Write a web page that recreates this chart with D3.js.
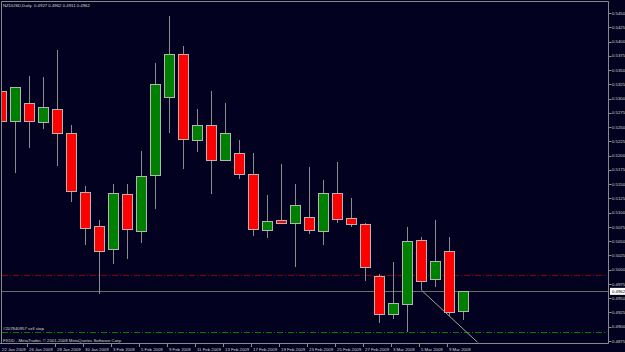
<!DOCTYPE html>
<html>
<head>
<meta charset="utf-8">
<script src="https://cdn.jsdelivr.net/npm/d3@7"></script>
<style>
    html, body { margin: 0; padding: 0; background: #020220; }
    svg { display: block; }
    text { font-family: "Liberation Sans", Arial, sans-serif; }
</style>
</head>
<body>
<div id="chart"></div>
<script>
// NZDUSD daily bars, 22 Jan 2009 - 10 Mar 2009
const dates = [
    "22 Jan 2009", "23 Jan 2009", "26 Jan 2009", "27 Jan 2009", "28 Jan 2009", "29 Jan 2009",
    "30 Jan 2009", "2 Feb 2009", "3 Feb 2009", "4 Feb 2009", "5 Feb 2009", "6 Feb 2009",
    "9 Feb 2009", "10 Feb 2009", "11 Feb 2009", "12 Feb 2009", "13 Feb 2009", "16 Feb 2009",
    "17 Feb 2009", "18 Feb 2009", "19 Feb 2009", "20 Feb 2009", "23 Feb 2009", "24 Feb 2009",
    "25 Feb 2009", "26 Feb 2009", "27 Feb 2009", "2 Mar 2009", "3 Mar 2009", "4 Mar 2009",
    "5 Mar 2009", "6 Mar 2009", "9 Mar 2009", "10 Mar 2009"
];
const opens = [
    0.5314, 0.5260, 0.5293, 0.5260, 0.5282, 0.5239, 0.5137, 0.5077, 0.5036, 0.5132, 0.5069, 0.5167,
    0.5304, 0.5379, 0.5227, 0.5253, 0.5192, 0.5204, 0.5167, 0.5069, 0.5087, 0.5082, 0.5092, 0.5068,
    0.5134, 0.5090, 0.5080, 0.4989, 0.4922, 0.4939, 0.5052, 0.4983, 0.5032, 0.4927
];
const highs = [
    0.5345, 0.5321, 0.5340, 0.5337, 0.5385, 0.5253, 0.5147, 0.5087, 0.5150, 0.5150, 0.5208, 0.5362,
    0.5444, 0.5392, 0.5281, 0.5313, 0.5292, 0.5227, 0.5204, 0.5131, 0.5185, 0.5151, 0.5180, 0.5157,
    0.5189, 0.5126, 0.5082, 0.4992, 0.5013, 0.5075, 0.5057, 0.5087, 0.5057, 0.4962
];
const lows = [
    0.5222, 0.5169, 0.5214, 0.5247, 0.5182, 0.5119, 0.5043, 0.4957, 0.5010, 0.5018, 0.5046, 0.5106,
    0.5239, 0.5176, 0.5207, 0.5133, 0.5191, 0.5159, 0.5059, 0.5056, 0.5080, 0.5005, 0.5062, 0.5043,
    0.5082, 0.5075, 0.4981, 0.4906, 0.4913, 0.4890, 0.4964, 0.4969, 0.4918, 0.4911
];
const closes = [
    0.5261, 0.5320, 0.5261, 0.5286, 0.5240, 0.5137, 0.5074, 0.5034, 0.5134, 0.5071, 0.5165, 0.5326,
    0.5379, 0.5230, 0.5253, 0.5192, 0.5239, 0.5168, 0.5070, 0.5085, 0.5081, 0.5114, 0.5070, 0.5134,
    0.5089, 0.5080, 0.5005, 0.4922, 0.4942, 0.5050, 0.4981, 0.5015, 0.4925, 0.4962
];

// price axis labels
const priceTicks = [
    0.5450, 0.5425, 0.5400, 0.5375, 0.5350, 0.5325, 0.5300, 0.5275, 0.5250, 0.5225, 0.5200, 0.5175,
    0.5150, 0.5125, 0.5100, 0.5075, 0.5050, 0.5025, 0.5000, 0.4975, 0.4950, 0.4925, 0.4900, 0.4875
];
// every second bar gets a date label
const dateTicks = dates.filter((d, i) => i % 2 === 0 && i < 33);

const currentPrice = 0.4962;
const orderLevel = 0.4990;   // red dash-dot
const sellStopLevel = 0.4890; // green dash-dot
const sellStopLabel = "#207840957 sell stop";
const trendStart = { index: 30, price: 0.4964 };
const trendEnd = { index: 34, price: 0.4873 };

document.addEventListener("DOMContentLoaded", function () {
    const W = 625, H = 352;
    const plotRight = 608, plotBottom = 343, plotLeft = 2, plotTop = 2;

    const data = dates.map((d, i) => ({
        date: d, open: opens[i], high: highs[i], low: lows[i], close: closes[i]
    }));

    const svg = d3.select("#chart")
        .append("svg")
        .attr("width", W)
        .attr("height", H);

    svg.append("rect")
        .attr("width", W).attr("height", H)
        .attr("fill", "#020220");

    // x: one band per trading day
    const x = d3.scaleBand()
        .domain(dates)
        .range([-5.5, 469.5])
        .paddingInner(0.22)
        .paddingOuter(0.11);
    const cx = (d) => Math.round(x(d) + x.bandwidth() / 2) + 0.5;

    // y: price
    const y = d3.scaleLinear()
        .domain([0.4875, 0.5450])
        .range([341, 13]);

    // clip for plot area
    svg.append("clipPath").attr("id", "plot")
        .append("rect")
        .attr("x", plotLeft).attr("y", plotTop)
        .attr("width", plotRight - plotLeft).attr("height", plotBottom - plotTop);

    const plot = svg.append("g").attr("clip-path", "url(#plot)");

    // horizontal levels
    const hline = (price, color, dash) => plot.append("line")
        .attr("x1", plotLeft).attr("x2", plotRight - 2)
        .attr("y1", Math.round(y(price)) + 0.5).attr("y2", Math.round(y(price)) + 0.5)
        .attr("stroke", color)
        .attr("stroke-width", 1)
        .attr("stroke-dasharray", dash);

    hline(orderLevel, "#8b0000", "6,2,1,2");
    hline(sellStopLevel, "#008000", "6,2,1,2");
    hline(currentPrice, "#6e6e5e", null).attr("x2", plotRight);

    // wicks
    plot.selectAll(".wick")
        .data(data)
        .enter()
        .append("line")
        .attr("class", "wick")
        .attr("x1", (d) => cx(d.date))
        .attr("x2", (d) => cx(d.date))
        .attr("y1", (d) => Math.round(y(d.high)))
        .attr("y2", (d) => Math.round(y(d.low)))
        .attr("stroke", "#8c8c8c")
        .attr("stroke-width", 1);

    // bodies
    plot.selectAll(".body")
        .data(data)
        .enter()
        .append("rect")
        .attr("class", "body")
        .attr("x", (d) => cx(d.date) - 5)
        .attr("y", (d) => Math.round(y(Math.max(d.open, d.close))) + 0.5)
        .attr("width", 10)
        .attr("height", (d) => Math.max(1, Math.round(y(Math.min(d.open, d.close)) - y(Math.max(d.open, d.close)))))
        .attr("fill", (d) => d.close >= d.open ? "#008000" : "#ff0000")
        .attr("stroke", "#b4b4b4")
        .attr("stroke-width", 1);

    // trend line
    const step = x.step();
    const xc30 = cx(dates[trendStart.index]);
    plot.append("line")
        .attr("x1", xc30)
        .attr("y1", y(trendStart.price))
        .attr("x2", xc30 + (trendEnd.index - trendStart.index) * step)
        .attr("y2", y(trendEnd.price))
        .attr("stroke", "#a8a290")
        .attr("stroke-width", 1);

    // frame
    svg.append("path")
        .attr("d", `M${plotLeft - 0.5},${plotBottom + 0.5}V${plotTop - 0.5}H${plotRight + 0.5}V${plotBottom + 0.5}H0`)
        .attr("fill", "none")
        .attr("stroke", "#8a8a8a")
        .attr("stroke-width", 1);

    // price axis
    const yAxis = svg.append("g");
    yAxis.selectAll("line")
        .data(priceTicks)
        .enter()
        .append("line")
        .attr("x1", plotRight + 0.5).attr("x2", plotRight + 3.5)
        .attr("y1", (d) => Math.round(y(d)) + 0.5)
        .attr("y2", (d) => Math.round(y(d)) + 0.5)
        .attr("stroke", "#8a8a8a");
    yAxis.selectAll("text")
        .data(priceTicks)
        .enter()
        .append("text")
        .attr("x", plotRight + 4)
        .attr("y", (d) => y(d) + 1.6)
        .attr("fill", "#d8d8cc")
        .style("font-size", "4.3px")
        .text((d) => d.toFixed(4));

    // current price badge
    svg.append("rect")
        .attr("x", plotRight + 2).attr("y", y(currentPrice) - 3.5)
        .attr("width", 15).attr("height", 7)
        .attr("fill", "#ffffff");
    svg.append("text")
        .attr("x", plotRight + 4)
        .attr("y", y(currentPrice) + 1.6)
        .attr("fill", "#000000")
        .style("font-size", "4.3px")
        .text(currentPrice.toFixed(4));

    // date axis
    const xAxis = svg.append("g");
    xAxis.selectAll("line")
        .data(dateTicks)
        .enter()
        .append("line")
        .attr("x1", (d) => cx(d) - 2).attr("x2", (d) => cx(d) - 2)
        .attr("y1", plotBottom).attr("y2", plotBottom + 4)
        .attr("stroke", "#8a8a8a");
    xAxis.selectAll("text")
        .data(dateTicks)
        .enter()
        .append("text")
        .attr("x", (d) => Math.max(2, cx(d) - 0.5))
        .attr("y", 350.5)
        .attr("fill", "#d8d8cc")
        .style("font-size", "4.3px")
        .text((d) => d);

    // header, labels, footer
    svg.append("text")
        .attr("x", 3).attr("y", 6.5)
        .attr("fill", "#d8d8cc")
        .style("font-size", "4.3px")
        .attr("xml:space", "preserve")
        .text(`NZDUSD,Daily  ${opens[33].toFixed(4)} ${highs[33].toFixed(4)} ${lows[33].toFixed(4)} ${closes[33].toFixed(4)}`);

    svg.append("text")
        .attr("x", 3).attr("y", y(sellStopLevel) - 2)
        .attr("fill", "#d8d8cc")
        .style("font-size", "4.3px")
        .text(sellStopLabel);

    svg.append("text")
        .attr("x", 3).attr("y", 341.5)
        .attr("fill", "#d8d8cc")
        .style("font-size", "4.3px")
        .text("FXDD - MetaTrader, \u00a9 2001-2008 MetaQuotes Software Corp.");
});
</script>
</body>
</html>
